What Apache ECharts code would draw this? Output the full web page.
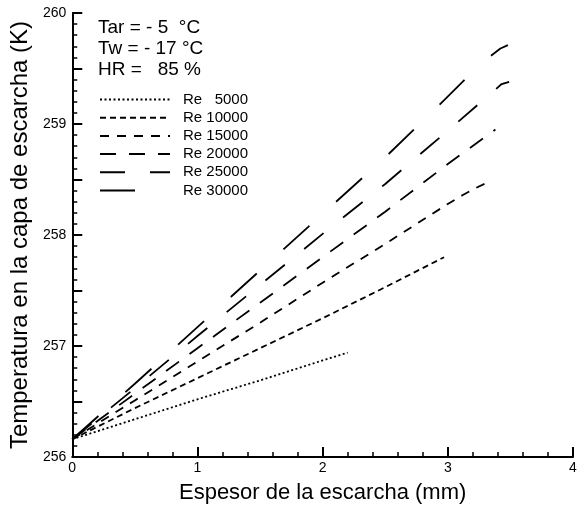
<!DOCTYPE html>
<html>
<head>
<meta charset="utf-8">
<script src="https://cdn.jsdelivr.net/npm/echarts@6/dist/echarts.min.js"></script>
<style>
  html, body { margin: 0; padding: 0; background: #fff; }
  #chart { width: 583px; height: 509px; }
</style>
</head>
<body>
<div id="chart"></div>
<script>
// valores: [espesor (mm), temperatura (K)]
const seriesNames = ["Re   5000", "Re 10000", "Re 15000", "Re 20000", "Re 25000", "Re 30000"];
const re5000 = [[0, 256.16], [0.5, 256.34], [1.0, 256.52], [1.5, 256.69], [2.0, 256.87], [2.2, 256.94]];
const re10000 = [[0, 256.16], [0.5, 256.44], [1.0, 256.71], [1.5, 256.98], [2.0, 257.25], [2.5, 257.53], [2.97, 257.80]];
const re15000 = [[0, 256.16], [0.5, 256.51], [1.0, 256.86], [1.5, 257.21], [2.0, 257.57], [2.5, 257.92], [3.0, 258.28], [3.12, 258.36], [3.2, 258.41], [3.31, 258.47]];
const re20000 = [[0, 256.16], [0.5, 256.57], [1.0, 256.98], [1.5, 257.39], [2.0, 257.80], [2.5, 258.21], [3.0, 258.64], [3.38, 258.95]];
const re25000 = [[0, 256.16], [0.5, 256.62], [1.0, 257.09], [1.5, 257.55], [2.0, 258.01], [2.5, 258.46], [3.0, 258.94], [3.38, 259.31], [3.43, 259.36], [3.49, 259.38]];
const re30000 = [[0, 256.16], [0.5, 256.66], [1.0, 257.17], [1.5, 257.68], [2.0, 258.19], [2.5, 258.70], [2.885, 259.12], [3.28, 259.56], [3.42, 259.68], [3.48, 259.71]];
const yTickLabels = ["256", "257", "258", "259", "260"];
const xTickLabels = ["0", "1", "2", "3", "4"];
const conditions = ["Tar = - 5  °C", "Tw = - 17 °C", "HR =   85 %"];

const allData = [re5000, re10000, re15000, re20000, re25000, re30000];
// patron de trazos de cada curva
const dashes = [[2, 2.5], [6, 4], [9, 8], [16, 13], [25, 25], [35, 36]];

const font = "Liberation Sans, Arial, sans-serif";

const chart = echarts.init(document.getElementById("chart"), null, { renderer: "canvas" });

chart.setOption({
  animation: false,
  backgroundColor: "#fff",
  grid: { left: 72, top: 13, width: 501, height: 450, containLabel: false },
  legend: {
    orient: "vertical",
    left: 99,
    top: 92,
    padding: 0,
    itemWidth: 70,
    itemHeight: 14,
    itemGap: 3.2,
    selectedMode: false,
    data: seriesNames,
    // sin simbolo en la muestra, solo la linea
    itemStyle: { opacity: 0 },
    textStyle: { fontFamily: font, fontSize: 15, color: "#000", lineHeight: 14, padding: [0, 0, 0, 8] },
  },
  graphic: conditions.map((t, i) => ({
    type: "text",
    left: 98,
    top: 18 + i * 21.3,
    style: { text: t, font: "19px " + font, fill: "#000" },
  })),
  xAxis: {
    type: "value",
    min: 0,
    max: 4,
    interval: 1,
    name: "Espesor de la escarcha (mm)",
    nameLocation: "middle",
    nameGap: 25,
    nameTextStyle: { fontFamily: font, fontSize: 22, color: "#000" },
    axisLine: { lineStyle: { color: "#000", width: 2 } },
    axisTick: { inside: true, length: 10, lineStyle: { color: "#000", width: 2 } },
    minorTick: { show: true, splitNumber: 5, length: 5, lineStyle: { color: "#000", width: 1.5 } },
    splitLine: { show: false },
    axisLabel: {
      margin: 4,
      fontFamily: font,
      fontSize: 14,
      color: "#000",
      formatter: (v) => xTickLabels[v] || "",
    },
  },
  yAxis: {
    type: "value",
    min: 256,
    max: 260,
    interval: 0.5,
    name: "Temperatura en la capa de escarcha (K)",
    nameLocation: "middle",
    nameGap: 38,
    nameTextStyle: { fontFamily: font, fontSize: 24, color: "#000" },
    axisLine: { lineStyle: { color: "#000", width: 2 } },
    axisTick: { inside: true, length: 10, lineStyle: { color: "#000", width: 2 } },
    minorTick: { show: true, splitNumber: 5, length: 5, lineStyle: { color: "#000", width: 1.5 } },
    splitLine: { show: false },
    axisLabel: {
      margin: 6,
      fontFamily: font,
      fontSize: 14,
      color: "#000",
      formatter: (v) => (Number.isInteger(v) ? yTickLabels[v - 256] : ""),
    },
  },
  series: seriesNames.map((name, i) => ({
    name: name,
    type: "line",
    data: allData[i],
    symbol: "none",
    smooth: false,
    color: "#000",
    lineStyle: { color: "#000", width: 1.8, type: dashes[i] },
  })),
});
</script>
</body>
</html>
